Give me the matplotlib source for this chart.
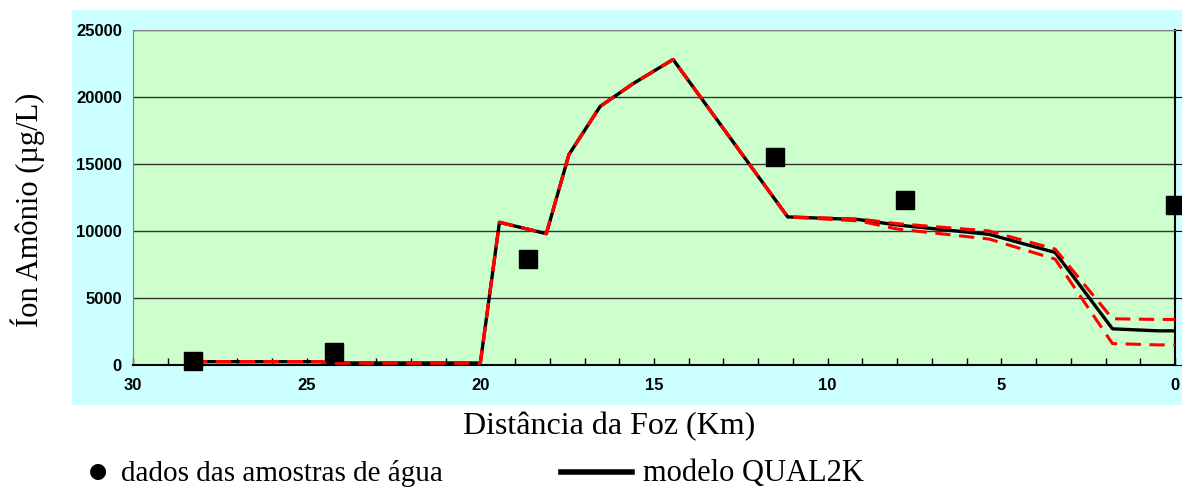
import matplotlib.pyplot as plt
from matplotlib.patches import Rectangle
from matplotlib.lines import Line2D

plt.rcParams["font.family"] = "Liberation Sans"
plt.rcParams["font.weight"] = "bold"

# dados das amostras de água (km, µg/L)
obs_km = [28.27, 24.2, 18.63, 11.52, 7.77, 0.0]
obs_val = [300, 950, 7900, 15520, 12300, 11940]

# modelo QUAL2K
mod_km = [28.3, 24.6, 24.4, 20.0, 19.45, 18.1, 17.45, 16.55, 15.6, 14.45,
          11.15, 9.1, 8.0, 5.35, 3.45, 1.8, 0.5, 0.0]
mod_val = [250, 250, 150, 150, 10650, 9800, 15700, 19300, 21000, 22800,
           11050, 10850, 10450, 9750, 8400, 2700, 2550, 2550]

# limites (linhas tracejadas vermelhas)
upper_val = [250, 250, 150, 150, 10650, 9800, 15700, 19300, 21000, 22800,
             11050, 10900, 10550, 10000, 8650, 3450, 3400, 3400]
lower_val = [250, 250, 150, 150, 10650, 9800, 15700, 19300, 21000, 22800,
             11050, 10750, 10150, 9400, 7900, 1600, 1500, 1500]

W, H = 1182, 490
fig = plt.figure(figsize=(W / 100, H / 100), dpi=100)

# painel ciano de fundo
fig.patches.append(Rectangle((72 / W, 1 - 405 / H), 1 - 72 / W, (405 - 10) / H,
                             transform=fig.transFigure, facecolor="#CCFFFF",
                             edgecolor="none", zorder=0))

ax = fig.add_axes([133 / W, 1 - 365 / H, (1175 - 133) / W, (365 - 30) / H])
ax.set_zorder(2)
ax.set_facecolor("#CCFFCC")

ax.plot(mod_km, mod_val, color="black", lw=2.4, zorder=3)
ax.plot(mod_km, upper_val, color="red", lw=2.2, ls=(0, (5, 2.8)), zorder=4)
ax.plot(mod_km, lower_val, color="red", lw=2.2, ls=(0, (5, 2.8)), zorder=4)
ax.plot(obs_km, obs_val, ls="none", marker="s", ms=13, color="black",
        zorder=5, clip_on=False)

ax.set_xlim(30, 0)
ax.set_ylim(0, 25000)
ax.set_xticks(range(30, -1, -5))
ax.set_xticks(range(30, -1, -1), minor=True)
ax.set_yticks(range(0, 25001, 5000))
ax.grid(axis="y", color="#333333", lw=1)
ax.set_axisbelow(True)

ax.tick_params(axis="x", which="both", direction="in", length=5, width=1,
               pad=9, labelsize=12)
ax.tick_params(axis="y", which="both", left=False, right=True, direction="out",
               length=5, pad=3, labelleft=True, labelright=False, labelsize=12)

for s in ["top", "left"]:
    ax.spines[s].set_color("#808080")
ax.spines["bottom"].set_color("black")
ax.spines["bottom"].set_linewidth(1.5)
ax.spines["right"].set_color("black")
ax.spines["right"].set_linewidth(1.5)

serif = "Liberation Serif"
fig.text(28 / W, 1 - 210 / H, "Íon Amônio (µg/L)", rotation=90, ha="center",
         va="center", family=serif, weight="normal", fontsize=22)
fig.text(609 / W, 1 - 427 / H, "Distância da Foz (Km)", ha="center",
         va="center", family=serif, weight="normal", fontsize=23)

# legenda
fig.text(98 / W, 1 - 471 / H, "●", ha="center", va="center",
         family="DejaVu Sans", weight="normal", fontsize=15)
fig.text(121 / W, 1 - 473 / H, "dados das amostras de água", ha="left",
         va="center", family=serif, weight="normal", fontsize=21)
fig.add_artist(Line2D([561 / W, 632 / W], [1 - 472 / H, 1 - 472 / H],
                      color="black", lw=4, transform=fig.transFigure))
fig.text(643 / W, 1 - 473 / H, "modelo QUAL2K", ha="left", va="center",
         family=serif, weight="normal", fontsize=22)

fig.savefig("out.png", dpi=100)
